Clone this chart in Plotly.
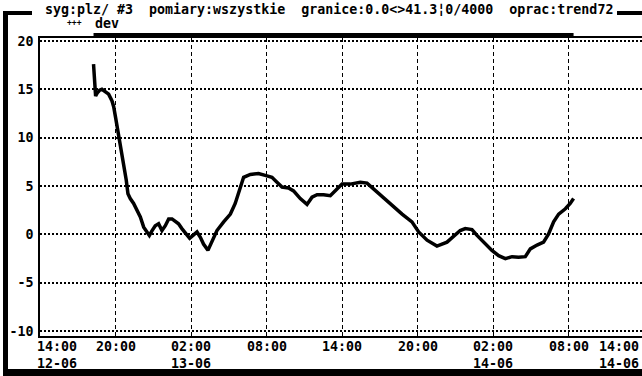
import plotly.graph_objects as go

# --- series "dev" -----------------------------------------------------------
times = [
    "2023-06-12 18:15", "2023-06-12 18:19", "2023-06-12 18:22", "2023-06-12 18:25",
    "2023-06-12 18:32", "2023-06-12 18:44", "2023-06-12 18:55", "2023-06-12 19:11",
    "2023-06-12 19:27", "2023-06-12 19:43", "2023-06-12 19:51", "2023-06-12 20:00",
    "2023-06-12 20:10", "2023-06-12 20:19", "2023-06-12 20:31", "2023-06-12 20:42",
    "2023-06-12 20:51", "2023-06-12 20:59", "2023-06-12 21:10", "2023-06-12 21:26",
    "2023-06-12 21:42", "2023-06-12 21:58", "2023-06-12 22:14", "2023-06-12 22:30",
    "2023-06-12 22:41", "2023-06-12 22:54", "2023-06-12 23:09", "2023-06-12 23:25",
    "2023-06-12 23:41", "2023-06-12 23:57", "2023-06-13 00:13", "2023-06-13 00:29",
    "2023-06-13 00:45", "2023-06-13 01:00", "2023-06-13 01:16", "2023-06-13 01:32",
    "2023-06-13 01:53", "2023-06-13 02:09", "2023-06-13 02:28", "2023-06-13 02:44",
    "2023-06-13 02:59", "2023-06-13 03:20", "2023-06-13 03:39", "2023-06-13 04:03",
    "2023-06-13 04:35", "2023-06-13 05:07", "2023-06-13 05:30", "2023-06-13 05:46",
    "2023-06-13 05:58", "2023-06-13 06:10", "2023-06-13 06:42", "2023-06-13 07:21",
    "2023-06-13 07:53", "2023-06-13 08:25", "2023-06-13 08:49", "2023-06-13 09:13",
    "2023-06-13 09:44", "2023-06-13 10:08", "2023-06-13 10:40", "2023-06-13 11:12",
    "2023-06-13 11:36", "2023-06-13 12:00", "2023-06-13 12:31", "2023-06-13 13:03",
    "2023-06-13 13:35", "2023-06-13 13:59", "2023-06-13 14:38", "2023-06-13 15:26",
    "2023-06-13 15:58", "2023-06-13 16:29", "2023-06-13 17:17", "2023-06-13 18:05",
    "2023-06-13 18:45", "2023-06-13 19:32", "2023-06-13 20:04", "2023-06-13 20:44",
    "2023-06-13 21:31", "2023-06-13 22:19", "2023-06-13 22:59", "2023-06-13 23:22",
    "2023-06-13 23:46", "2023-06-14 00:18", "2023-06-14 00:42", "2023-06-14 01:13",
    "2023-06-14 01:53", "2023-06-14 02:25", "2023-06-14 02:57", "2023-06-14 03:29",
    "2023-06-14 04:00", "2023-06-14 04:32", "2023-06-14 04:56", "2023-06-14 05:28",
    "2023-06-14 05:59", "2023-06-14 06:23", "2023-06-14 06:47", "2023-06-14 07:11",
    "2023-06-14 07:43", "2023-06-14 08:06", "2023-06-14 08:22",
]
dev = [
    17.6, 16.4, 15.6, 14.3, 14.6, 14.9, 15.0, 14.8, 14.5, 13.8, 13.2, 12.1,
    10.9, 9.7, 8.3, 7.0, 5.6, 4.2, 3.7, 3.2, 2.5, 1.8, 0.75, 0.25,
    -0.1, 0.4, 0.9, 1.1, 0.4, 0.9, 1.6, 1.6, 1.3, 1.1, 0.6, 0.2,
    -0.4, -0.1, 0.25, -0.3, -1.0, -1.65, -0.8, 0.4, 1.3, 2.1, 3.2, 4.2,
    5.2, 5.9, 6.2, 6.3, 6.1, 5.9, 5.4, 4.9, 4.8, 4.5, 3.7, 3.1,
    3.85, 4.1, 4.1, 4.0, 4.7, 5.2, 5.2, 5.4, 5.3, 4.7, 3.85, 2.8,
    2.1, 1.3, 0.25, -0.6, -1.2, -0.8, -0.1, 0.4, 0.6, 0.5, -0.1, -0.8,
    -1.65, -2.2, -2.5, -2.3, -2.35, -2.3, -1.5, -1.1, -0.8, 0.05, 1.3, 2.1,
    2.65, 3.2, 3.7,
]

# --- axes -------------------------------------------------------------------
x_ticks = [
    "2023-06-12 14:00", "2023-06-12 20:00", "2023-06-13 02:00", "2023-06-13 08:00",
    "2023-06-13 14:00", "2023-06-13 20:00", "2023-06-14 02:00", "2023-06-14 08:00",
    "2023-06-14 14:00",
]
x_tick_labels = [
    "14:00<br>12-06", "20:00", "02:00<br>13-06", "08:00", "14:00", "20:00",
    "02:00<br>14-06", "08:00", "14:00<br>14-06",
]
y_ticks = [20, 15, 10, 5, 0, -5, -10]
x_range = ["2023-06-12 14:00", "2023-06-14 13:48"]
y_range = [-10.5, 20.3]

title_text = "syg:plz/ #3  pomiary:wszystkie  granice:0.0<>41.3¦0/4000  oprac:trend72"
series_name = "dev"

W, H = 642, 376
ML, MR, MT, MB = 40, 0, 38, 40
PW, PH = W - ML - MR, H - MT - MB
FONT = "DejaVu Sans Mono"
FS = 13.3


def fx(p):
    """pixel column -> paper x"""
    return (p - ML) / PW


def fy(p):
    """pixel row -> paper y"""
    return (H - MB - p) / PH


def bold(s):
    return "<b>" + s + "</b>"


fig = go.Figure()
fig.add_trace(go.Scatter(
    x=times, y=dev, name=series_name, mode="lines",
    line=dict(color="black", width=3.5), showlegend=False,
))

shapes = []
# outer window frame
for x0, x1, y0, y1 in [(3, 8, 11, 376), (3, 32, 11, 15), (617, 642, 11, 15), (3, 642, 369, 376)]:
    shapes.append(dict(type="rect", xref="paper", yref="paper",
                       x0=fx(x0), x1=fx(x1), y0=fy(y1), y1=fy(y0),
                       fillcolor="black", line=dict(width=0), layer="above"))
# data coverage bar on the top edge of the plot
shapes.append(dict(type="rect", xref="x", yref="paper",
                   x0=times[0], x1=times[-1], y0=1.0, y1=fy(33),
                   fillcolor="black", line=dict(width=0), layer="above"))

annotations = [
    dict(text=bold(title_text), xref="paper", yref="paper", x=fx(43), y=fy(10),
         xanchor="left", yanchor="middle", showarrow=False,
         font=dict(family=FONT, size=FS, color="black")),
    dict(text=bold("+++"), xref="paper", yref="paper", x=fx(74), y=fy(23),
         xanchor="center", yanchor="middle", showarrow=False,
         font=dict(family=FONT, size=8, color="black")),
    dict(text=bold(series_name), xref="paper", yref="paper", x=fx(93), y=fy(24),
         xanchor="left", yanchor="middle", showarrow=False,
         font=dict(family=FONT, size=FS, color="black")),
]
last = len(x_ticks) - 1
for i, (t, lab) in enumerate(zip(x_ticks, x_tick_labels)):
    if i == 0:
        anc, xs = "left", -5
    elif i == last:
        anc, xs = "right", 0
    else:
        anc, xs = "center", 0
    ann = dict(text=bold(lab), yref="paper", y=0, yanchor="top", yshift=-1,
               xanchor=anc, xshift=xs, showarrow=False, align="left",
               font=dict(family=FONT, size=FS, color="black"))
    if i == last:
        ann.update(xref="paper", x=fx(641))
    else:
        ann.update(xref="x", x=t)
    annotations.append(ann)

fig.update_layout(
    width=W, height=H,
    margin=dict(l=ML, r=MR, t=MT, b=MB, pad=0),
    paper_bgcolor="white", plot_bgcolor="white",
    font=dict(family=FONT, size=FS, color="black"),
    shapes=shapes, annotations=annotations, showlegend=False,
    xaxis=dict(
        type="date", range=x_range, tickvals=x_ticks, showticklabels=False,
        showgrid=True, gridcolor="black", gridwidth=1, griddash="4px,3px",
        showline=True, linecolor="black", linewidth=1.5, mirror=True,
        zeroline=False, ticks="",
    ),
    yaxis=dict(
        range=y_range, tickvals=y_ticks, ticktext=[bold(str(v)) for v in y_ticks],
        showgrid=True, gridcolor="black", gridwidth=2, griddash="2px,2px",
        showline=True, linecolor="black", linewidth=1.5, mirror=False,
        zeroline=False, ticks="", ticklabelstandoff=2,
        tickfont=dict(family=FONT, size=FS, color="black"),
    ),
)

fig.write_html("out.html")
